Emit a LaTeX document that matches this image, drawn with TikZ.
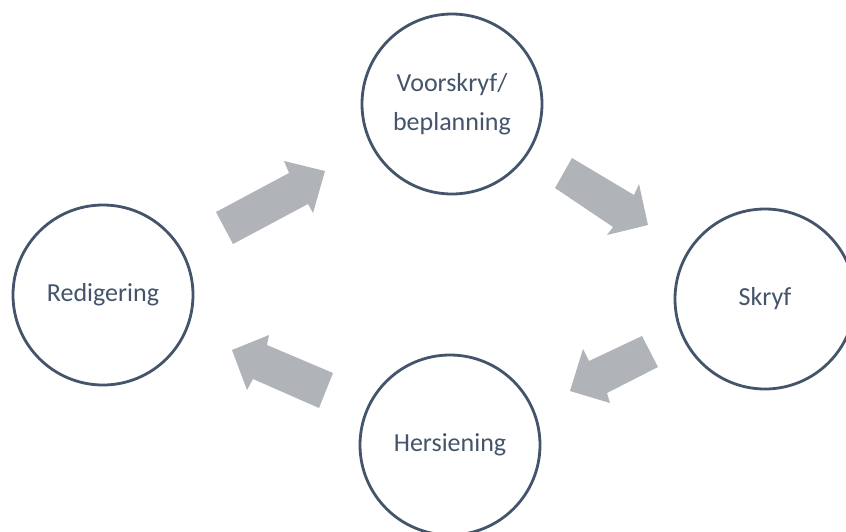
\documentclass[tikz,border=0pt]{standalone}
\usepackage{fontspec}
\setmainfont{Carlito}
\definecolor{ring}{HTML}{44546A}
\definecolor{blk}{HTML}{B0B3B8}
\begin{document}
\begin{tikzpicture}[x=1pt,y=-1pt,
  stage/.style={circle,draw=ring,line width=2.8pt,fill=white,minimum size=180pt,inner sep=0pt,
    text=ring,align=center,font=\fontsize{26}{39}\selectfont},
  blockarrow/.style={fill=blk,draw=none}]
\useasboundingbox (0,0) rectangle (846,531);
\clip (0,0) rectangle (846,531);
\node[stage] (plan) at (452,104) {Voorskryf/\\beplanning};
\node[stage] (skryf) at (765,299) {Skryf};
\node[stage] (hers) at (450,445) {Hersiening};
\node[stage] (red) at (103,295) {Redigering};
% block arrows
\fill[blockarrow] (216,212) -- (289,173) -- (284,161) -- (325,171) -- (313,213) -- (308,204) -- (233,244) -- cycle;
\fill[blockarrow] (572,158) -- (634,195) -- (639,184) -- (648,225) -- (607,235) -- (613,227) -- (555,188) -- cycle;
\fill[blockarrow] (642,336) -- (658,367) -- (607,393) -- (610,403) -- (570,391) -- (583,349) -- (589,361) -- cycle;
\fill[blockarrow] (333,373) -- (319,408) -- (253,379) -- (247,390) -- (232,350) -- (269,335) -- (267,345) -- cycle;
\end{tikzpicture}
\end{document}
